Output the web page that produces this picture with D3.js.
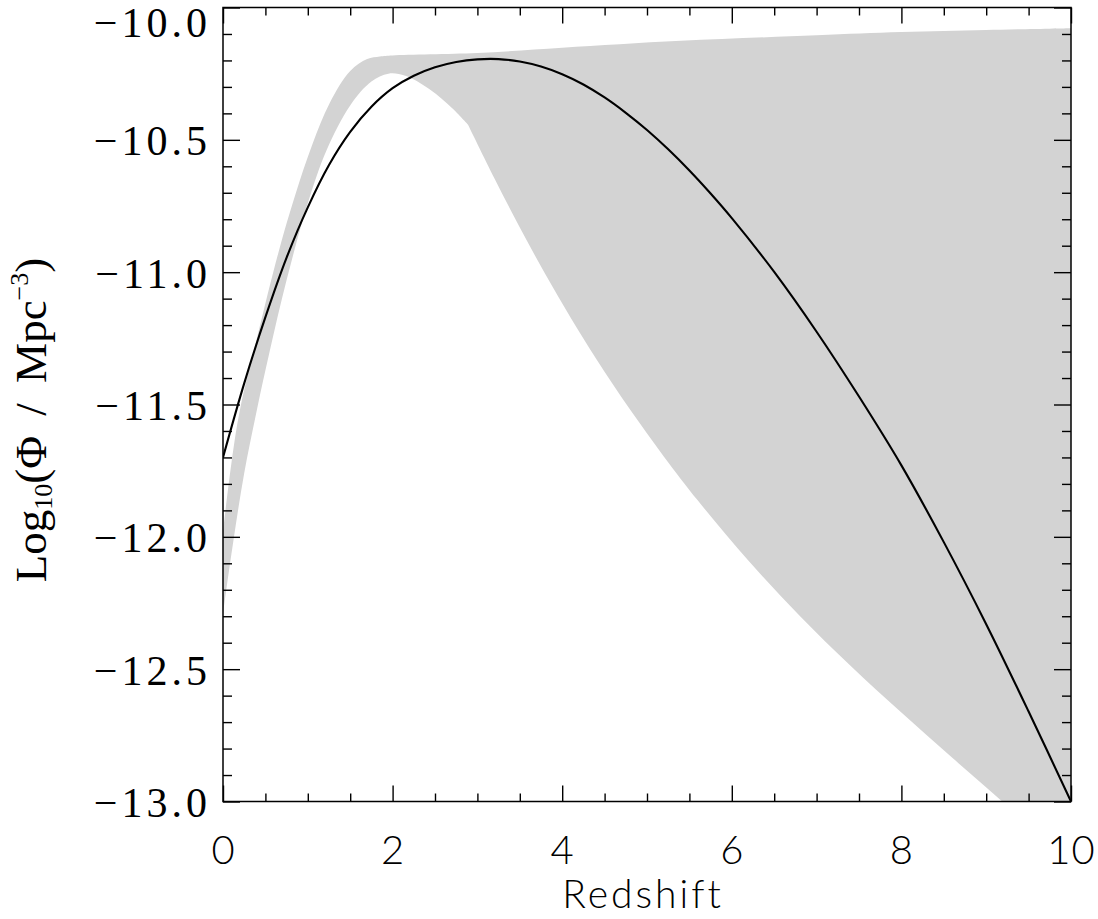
<!DOCTYPE html>
<html>
<head>
<meta charset="utf-8">
<script src="https://cdn.jsdelivr.net/npm/d3@7"></script>
<style>
  html, body { margin: 0; padding: 0; background: #fff; }
  svg { display: block; }
</style>
</head>
<body>
<svg id="chart" width="1098" height="919"></svg>
<script>
// ---- data ----
const modelZ   = [0,0.25,0.5,0.75,1.0,1.25,1.5,1.75,2.0,2.25,2.5,2.75,3.0,3.25,3.5,3.75,4.0,4.25,4.5,4.75,5.0,5.25,5.5,5.75,6.0,6.5,7.0,7.5,8.0,8.5,9.0,9.5,10];
const modelPhi = [-11.70,-11.42,-11.17,-10.945,-10.755,-10.595,-10.47,-10.375,-10.305,-10.258,-10.226,-10.206,-10.196,-10.195,-10.204,-10.223,-10.252,-10.291,-10.340,-10.398,-10.463,-10.536,-10.616,-10.703,-10.796,-10.999,-11.225,-11.470,-11.730,-12.020,-12.330,-12.660,-13.0];

const upperZ   = [0,0.1,0.2,0.4,0.65,0.85,1.05,1.26,1.5,1.7,1.85,2.0,3.0,4.0,5.4,7.0,8.0,9.0,10];
const upperPhi = [-11.98,-11.72,-11.52,-11.25,-10.93,-10.71,-10.52,-10.36,-10.24,-10.195,-10.185,-10.181,-10.172,-10.152,-10.126,-10.105,-10.093,-10.085,-10.078];

const lowerZ   = [0,0.12,0.25,0.4,0.55,0.75,1.0,1.22,1.5,1.75,1.95,2.15,2.44,2.7,2.89,3.2,3.5,3.8,4.1,4.4,4.8,5.2,5.6,6.2,6.8,7.4,8.0,8.6,9.2,10];
const lowerPhi = [-12.29,-12.02,-11.76,-11.52,-11.30,-11.03,-10.74,-10.54,-10.37,-10.28,-10.25,-10.258,-10.31,-10.38,-10.443,-10.645,-10.831,-11.007,-11.172,-11.327,-11.519,-11.697,-11.863,-12.091,-12.298,-12.487,-12.664,-12.835,-13.003,-13.23];
const lowerKinkZ = 2.89;

const xMajorTicks = [0,2,4,6,8,10];
const yMajorTicks = [-10.0,-10.5,-11.0,-11.5,-12.0,-12.5,-13.0];

// ---- layout ----
const L = 223, R = 1071, T = 7.5, B = 801.5;
const svg = d3.select("#chart");

const x = d3.scaleLinear().domain([0,10]).range([L,R]);
const y = d3.scaleLinear().domain([-13,-10]).range([B,T]);

svg.append("defs").append("clipPath").attr("id","plotclip")
  .append("rect").attr("x",L).attr("y",T).attr("width",R-L).attr("height",B-T);

const g = svg.append("g").attr("clip-path","url(#plotclip)");

// gray band
const smoothC = d3.line().curve(d3.curveCatmullRom.alpha(0.5));
const upperPts = upperZ.map((z,i)=>[x(z), y(upperPhi[i])]);
const lowerAll = lowerZ.map((z,i)=>[z, lowerPhi[i]]);
const lowA = lowerAll.filter(d=>d[0] <= lowerKinkZ).map(d=>[x(d[0]),y(d[1])]);
const lowB = lowerAll.filter(d=>d[0] >= lowerKinkZ).map(d=>[x(d[0]),y(d[1])]);
const bandPath = smoothC(upperPts)
  + "L" + smoothC(lowB.slice().reverse()).slice(1)
  + "L" + smoothC(lowA.slice().reverse()).slice(1) + "Z";
g.append("path").attr("d", bandPath).attr("fill","#d3d3d3").attr("stroke","none");

// model curve
const curve = d3.line().x((d,i)=>x(modelZ[i])).y(d=>y(d)).curve(d3.curveCatmullRom.alpha(0.5));
g.append("path").attr("d", curve(modelPhi)).attr("fill","none")
  .attr("stroke","#000").attr("stroke-width",2.1);

// ---- axes ----
const xMinor = d3.range(0,10.001,0.5).filter(v=>Math.abs(v/2-Math.round(v/2))>1e-6);
const yMinor = d3.range(-13,-9.999,0.1).map(v=>+v.toFixed(1)).filter(v=>Math.abs(v*2-Math.round(v*2))>1e-6);

function styleAxis(sel){
  sel.select(".domain").remove();
  sel.selectAll("line").attr("stroke","#000").attr("stroke-width",1.4);
}

const sansFont = "Lato, 'Open Sans', 'Liberation Sans', sans-serif";

// bottom
svg.append("g").attr("transform",`translate(0,${B})`)
  .call(d3.axisBottom(x).tickValues(xMajorTicks).tickSize(-16).tickPadding(0).tickFormat(d3.format("d")))
  .call(styleAxis)
  .call(s=>s.selectAll("text").attr("y",62).attr("dy",null)
     .attr("font-family",sansFont).attr("font-size",40)
     .attr("font-weight",300).attr("letter-spacing",1).attr("fill","#000"));
svg.append("g").attr("transform",`translate(0,${B})`)
  .call(d3.axisBottom(x).tickValues(xMinor).tickSize(-8).tickFormat(""))
  .call(styleAxis);
// top
svg.append("g").attr("transform",`translate(0,${T})`)
  .call(d3.axisTop(x).tickValues(xMajorTicks).tickSize(-16).tickFormat(""))
  .call(styleAxis);
svg.append("g").attr("transform",`translate(0,${T})`)
  .call(d3.axisTop(x).tickValues(xMinor).tickSize(-8).tickFormat(""))
  .call(styleAxis);

// left
const fmtY = v => (v<0 ? "\u2212" : "") + Math.abs(v).toFixed(1);
svg.append("g").attr("transform",`translate(${L},0)`)
  .call(d3.axisLeft(y).tickValues(yMajorTicks).tickSize(-17).tickFormat(fmtY))
  .call(styleAxis)
  .call(s=>s.selectAll("text")
     .attr("x", -12).attr("dy", null)
     .attr("y", d => d === -10 ? 29 : 15)
     .attr("text-anchor","end")
     .attr("font-family","'Liberation Serif', 'Times New Roman', serif")
     .attr("font-size",42).attr("letter-spacing",4).attr("fill","#000"));
svg.append("g").attr("transform",`translate(${L},0)`)
  .call(d3.axisLeft(y).tickValues(yMinor).tickSize(-9).tickFormat(""))
  .call(styleAxis);
// right
svg.append("g").attr("transform",`translate(${R},0)`)
  .call(d3.axisRight(y).tickValues(yMajorTicks).tickSize(-17).tickFormat(""))
  .call(styleAxis);
svg.append("g").attr("transform",`translate(${R},0)`)
  .call(d3.axisRight(y).tickValues(yMinor).tickSize(-9).tickFormat(""))
  .call(styleAxis);

// frame
svg.append("rect").attr("x",L).attr("y",T).attr("width",R-L).attr("height",B-T)
  .attr("fill","none").attr("stroke","#000").attr("stroke-width",1.5);

// x title
svg.append("text").attr("x",(L+R)/2 - 4).attr("y",908)
  .attr("text-anchor","middle")
  .attr("font-family",sansFont)
  .attr("font-size",39).attr("font-weight",300).attr("letter-spacing",3)
  .attr("fill","#000").text("Redshift");

// y title
const yt = svg.append("text")
  .attr("transform","translate(46,420) rotate(-90)")
  .attr("text-anchor","middle")
  .attr("font-family","'Liberation Serif', 'Times New Roman', serif")
  .attr("font-size",45).attr("fill","#000");
yt.append("tspan").text("Log");
yt.append("tspan").attr("font-size",26).attr("dy",6).text("10");
yt.append("tspan").attr("dy",-6).text("(\u03A6\u2009 / \u2009Mpc");
yt.append("tspan").attr("font-size",26).attr("dy",-18).text("\u22123");
yt.append("tspan").attr("dy",18).text(")");
</script>
</body>
</html>
